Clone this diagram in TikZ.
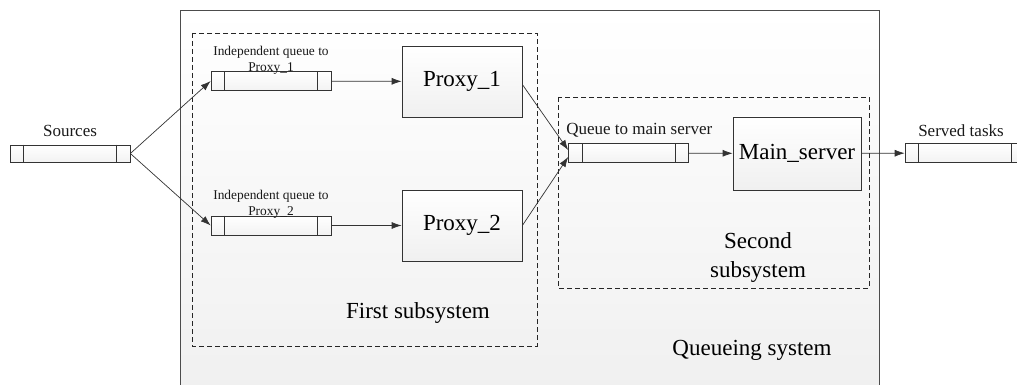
\documentclass[tikz,border=0pt]{standalone}
\usepackage{fontspec}
\setmainfont{Liberation Serif}
\usetikzlibrary{positioning,arrows.meta,shadows}
\begin{document}
\begin{tikzpicture}[x=1pt,y=-1pt,
    queue/.style={draw=gray!40!black,line width=.7pt,top color=white,bottom color=gray!10,minimum width=120pt,minimum height=19pt,inner sep=0pt},
    server/.style={draw=gray!40!black,line width=.7pt,top color=white,bottom color=gray!12,inner sep=0pt,font=\fontsize{23}{26}\selectfont,drop shadow={shadow xshift=1pt,shadow yshift=-1pt,opacity=.25}},
    subsys/.style={draw=gray!30!black,line width=.7pt,dash pattern=on 5pt off 3pt},
    flow/.style={draw=gray!40!black,line width=.7pt,-{Latex[length=10pt,width=7pt]}},
    lbl/.style={font=\fontsize{17}{19}\selectfont,text=gray!20!black,inner sep=1pt},
    small/.style={font=\fontsize{13.4}{16}\selectfont,text=gray!20!black,inner sep=0pt,align=center},
    big/.style={font=\fontsize{23}{29}\selectfont,text=black,align=center}]
      \useasboundingbox (0,0) rectangle (1017,385);
      \draw[gray!60!black,line width=.8pt,top color=white,bottom color=gray!12] (180,10) rectangle (879,400);
      \draw[subsys] (192,33) rectangle (537,346);
      \draw[subsys] (558,97) rectangle (869,288);

      \node[queue,minimum height=17pt] (src) at (70,153.5) {};
      \node[queue] (q1) at (271,81) {};
      \node[queue] (q2) at (271,225.5) {};
      \node[queue] (qm) at (628.5,153) {};
      \node[queue] (qs) at (965,153) {};
      \foreach \q in {src,q1,q2,qm,qs}
      \draw[gray!40!black,line width=.7pt] ([xshift=14pt]\q.north west) -- ([xshift=14pt]\q.south west)
        ([xshift=-14pt]\q.north east) -- ([xshift=-14pt]\q.south east);

      \node[server,minimum width=120pt,minimum height=71pt] (p1) at (462,81.5) {Proxy\_1};
      \node[server,minimum width=120pt,minimum height=71pt] (p2) at (462,225.5) {Proxy\_2};
      \node[server,minimum width=128pt,minimum height=73pt] (ms) at (797,153.5) {Main\_server};

      \node[lbl,above=7pt of src] (srclbl) {Sources};
      \node[small,above=-3pt of q1] (q1lbl) {Independent queue to\\Proxy\_1};
      \node[small,above=-3pt of q2] (q2lbl) {Independent queue to\\Proxy\_2};
      \node[lbl,above right=5pt and -3pt of qm.north west] (qmlbl) {Queue to main server};
      \node[lbl,above=5pt of qs,xshift=-4pt] (qslbl) {Served tasks};
      \node[big] (first) at (418,313) {First subsystem};
      \node[big] (second) at (758,258) {Second\\subsystem};
      \node[big] (qsys) at (752,350) {Queueing system};

      \draw[flow] (src.east) -- (q1.west);
      \draw[flow] (src.east) -- (q2.west);
      \draw[flow] (q1) -- (p1);
      \draw[flow] (q2) -- (p2);
      \draw[flow] ([yshift=-3pt]p1.east) -- ([yshift=3pt]qm.west);
      \draw[flow] (p2.east) -- ([yshift=-4pt]qm.west);
      \draw[flow] (qm) -- (ms);
      \draw[flow] (ms) -- (qs);
    \end{tikzpicture}
\end{document}
